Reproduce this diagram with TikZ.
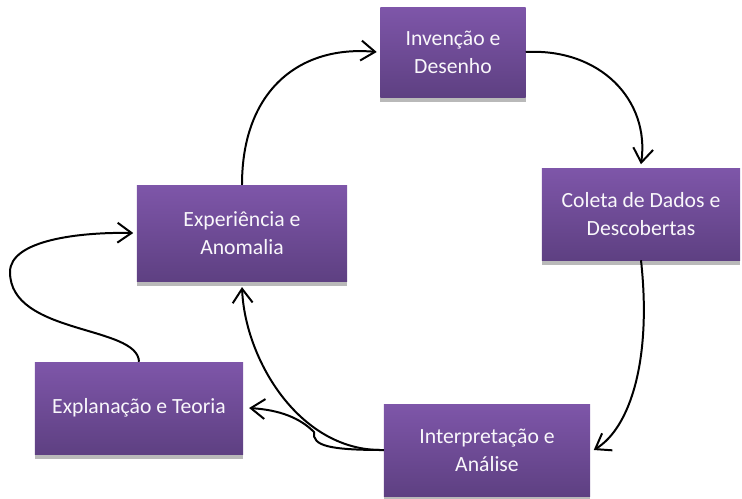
\documentclass[tikz,border=0pt]{standalone}
\usepackage{fontspec}
\setmainfont{Carlito}
\usepackage{xcolor}
\usetikzlibrary{arrows.meta, shadows}

\definecolor{boxtop}{HTML}{7E56A9}
\definecolor{boxbot}{HTML}{5E4082}

\begin{document}
\begin{tikzpicture}[x=0.03cm, y=-0.03cm,
  b/.style={rectangle, top color=boxtop, bottom color=boxbot, draw=none,
    text=white!95!boxtop, align=center, font=\fontsize{18.5}{24}\selectfont,
    drop shadow={shadow xshift=0pt, shadow yshift=-4pt, fill=gray!55, opacity=1}},
  c/.style={line width=1.7pt, -{Straight Barb[length=12pt, width=17pt, line width=1.7pt]}}]

\useasboundingbox (0,0) rectangle (742,499);

% Boxes of the cycle
\node[b, minimum width=4.35cm, minimum height=2.7cm] (inv) at (453,52) {Invenção e\\Desenho};
\node[b, minimum width=5.94cm, minimum height=2.76cm] (col) at (641,214) {Coleta de Dados e\\Descobertas};
\node[b, minimum width=6.18cm, minimum height=2.76cm] (int) at (487,450) {Interpretação e\\Análise};
\node[b, minimum width=6.3cm, minimum height=2.88cm] (exp) at (242,233) {Experiência e\\Anomalia};
\node[b, minimum width=6.24cm, minimum height=2.76cm] (expl) at (139,408) {Explanação e Teoria};

% Main cycle
\draw[c] (exp.north) .. controls (242,90) and (300,45) .. ([xshift=-3pt]inv.west);
\draw[c] (inv.east) .. controls (600,48) and (650,100) .. ([yshift=3pt]col.north);
\draw[c] (col.south) .. controls (652,360) and (630,428) .. ([xshift=3pt]int.east);
\draw[c] (int.west) .. controls (300,452) and (245,360) .. ([yshift=-5pt]exp.south);

% Side loop through the theory box
\draw[c] (int.west) .. controls (330,450) and (312,446) .. (314,432)
  .. controls (300,418) and (280,410) .. ([xshift=5pt]expl.east);
\draw[c] (expl.north) .. controls (138,325) and (10,335) .. (10,272)
  .. controls (10,240) and (80,232) .. ([xshift=-3pt]exp.west);

\end{tikzpicture}
\end{document}
